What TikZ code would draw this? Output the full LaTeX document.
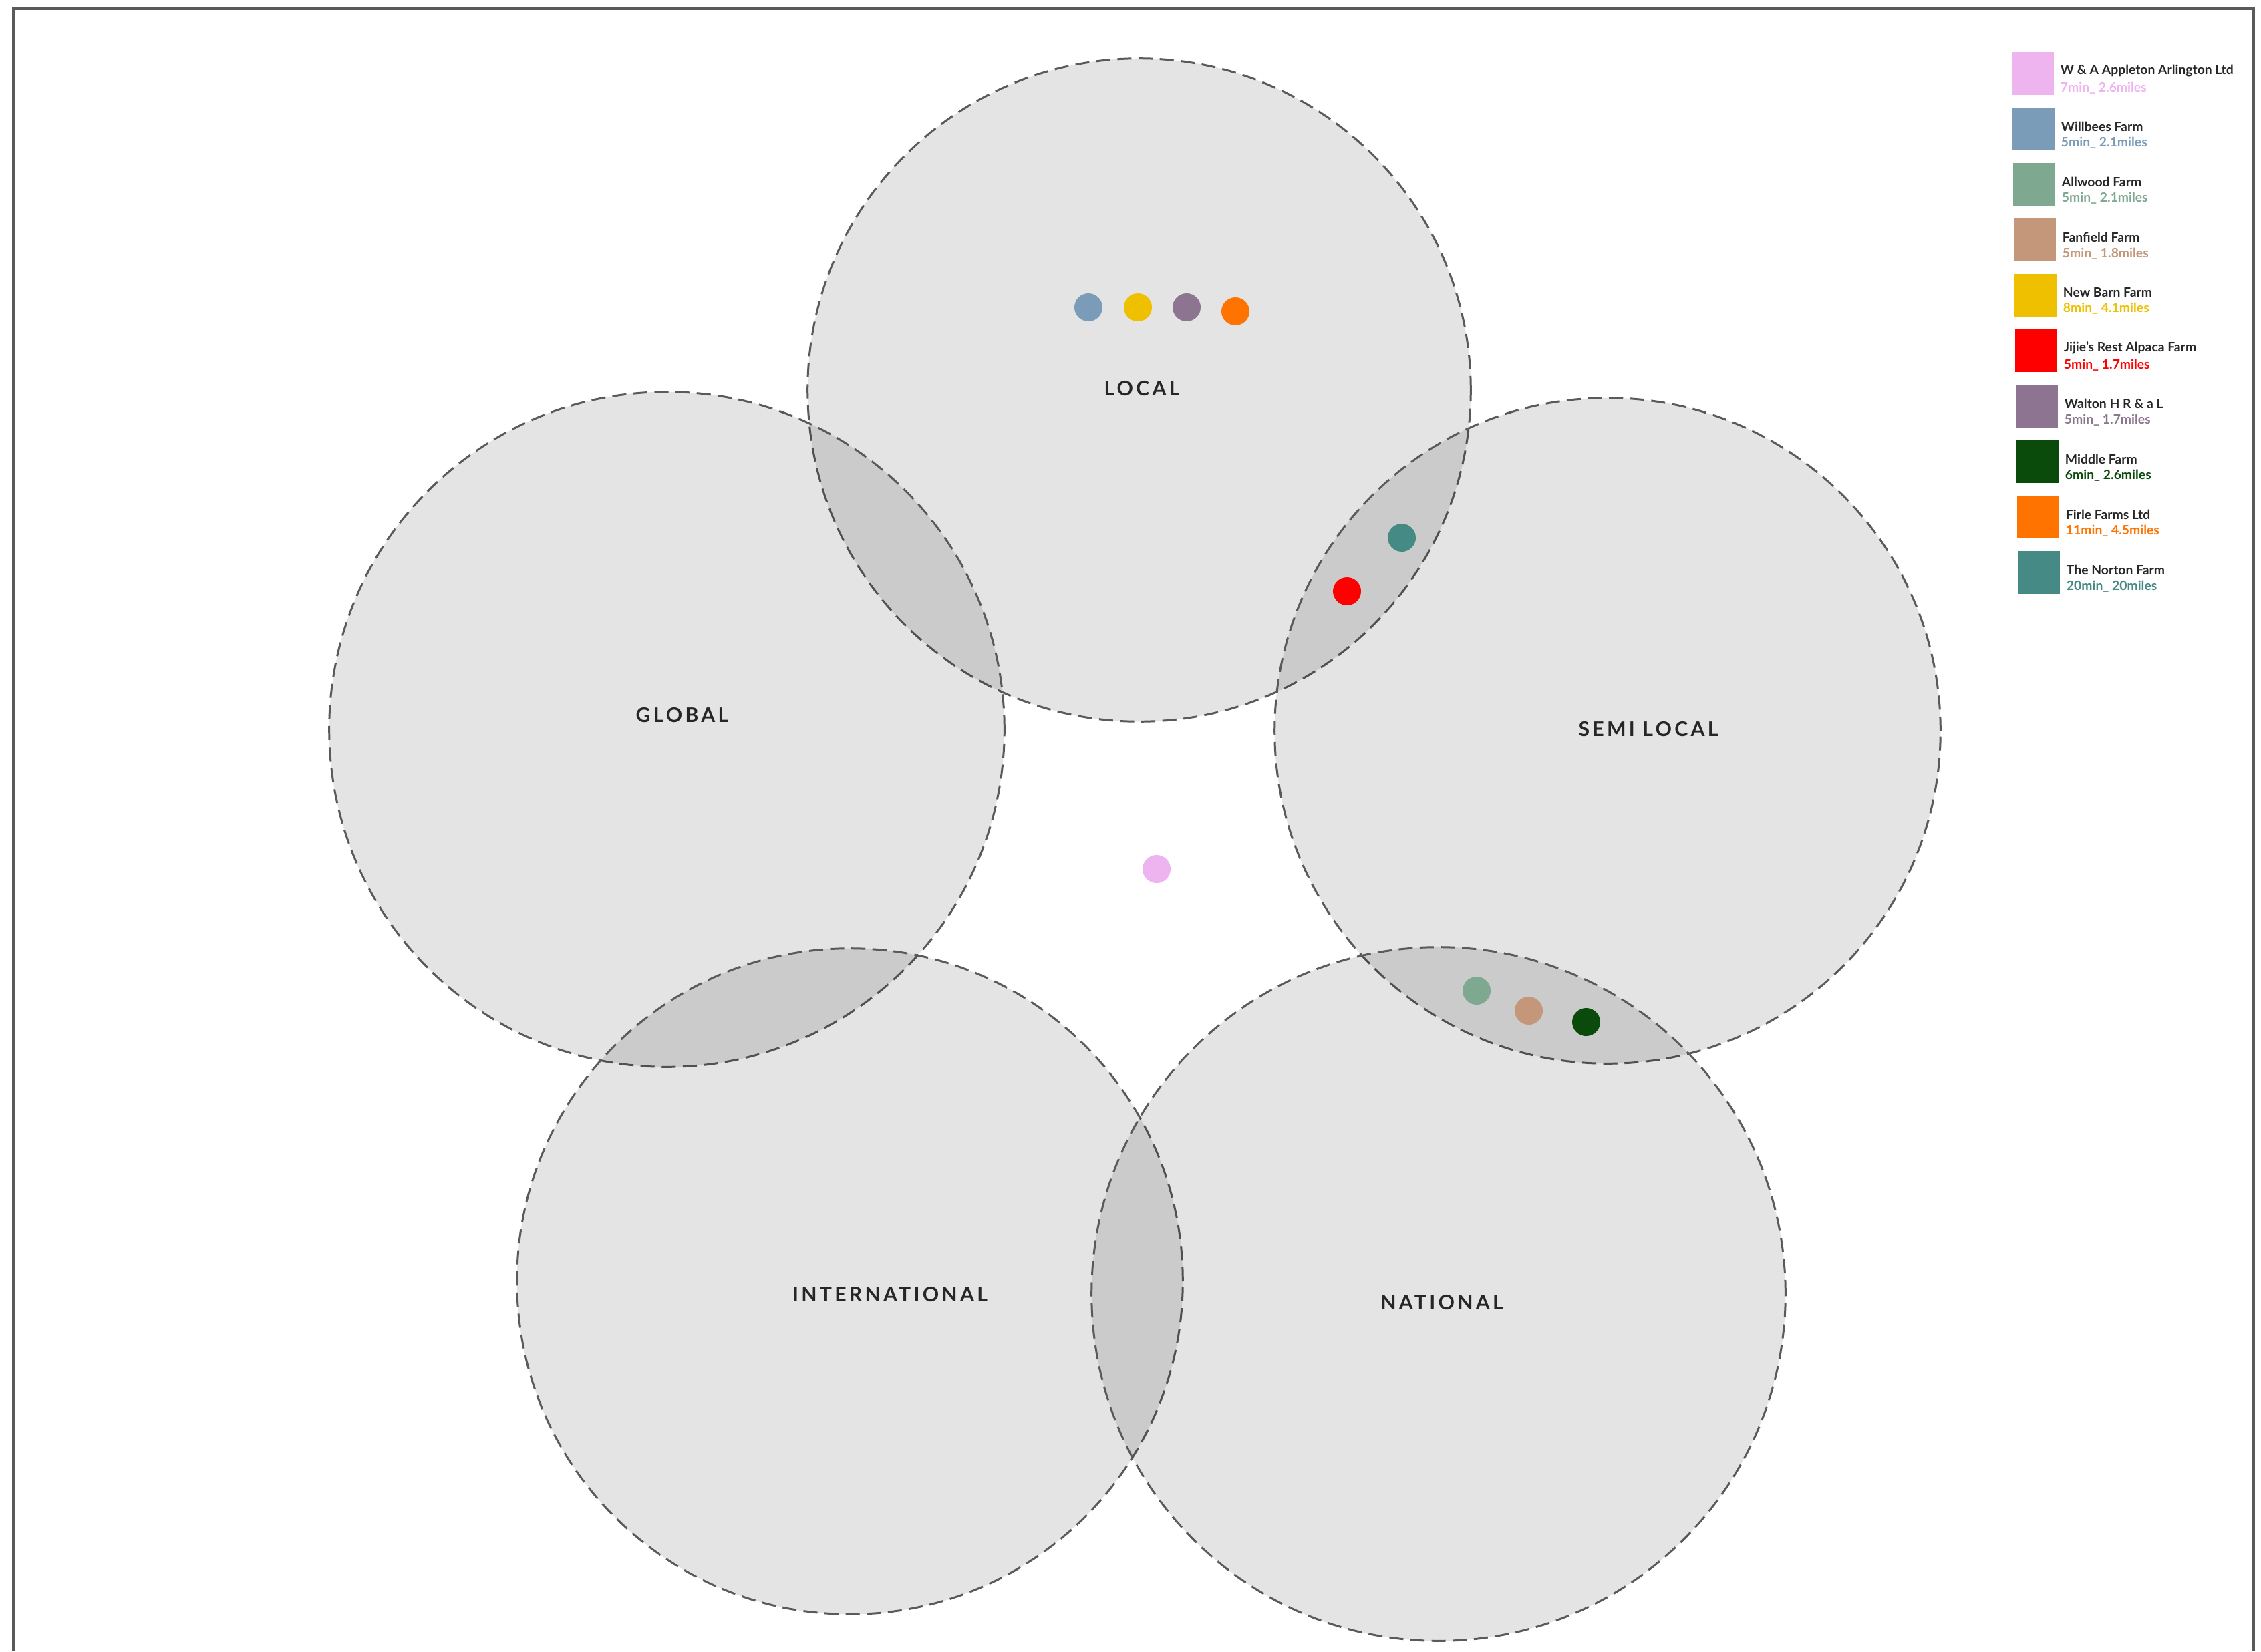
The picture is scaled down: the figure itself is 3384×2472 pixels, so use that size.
\documentclass[tikz,border=0pt]{standalone}
\usepackage{fontspec}
\setmainfont{Lato}
\usetikzlibrary{positioning}

\definecolor{zoneline}{HTML}{5A5A5A}
\definecolor{appleton}{HTML}{EEB4F0}
\definecolor{willbees}{HTML}{7B9CB8}
\definecolor{allwood}{HTML}{7EA88F}
\definecolor{fanfield}{HTML}{C4967A}
\definecolor{newbarn}{HTML}{EFC000}
\definecolor{jijie}{HTML}{FF0000}
\definecolor{walton}{HTML}{8D7490}
\definecolor{middle}{HTML}{0A4A0A}
\definecolor{firle}{HTML}{FF7400}
\definecolor{norton}{HTML}{468A86}

\begin{document}
\begin{tikzpicture}[x=0.01cm, y=-0.01cm,
  zone/.style={circle, draw=zoneline, line width=0.85pt, dash pattern=on 6pt off 3pt,
    fill=black, fill opacity=0.105, inner sep=0pt},
  zonelabel/.style={font=\fontsize{8.6}{10}\selectfont\bfseries\addfontfeatures{LetterSpace=14}, text=black!85},
  dot/.style={circle, minimum size=0.42cm, inner sep=0pt},
  key/.style={minimum width=0.63cm, minimum height=0.63cm, inner sep=0pt},
  keyname/.style={font=\fontsize{5.5}{6}\selectfont\bfseries, text=black!85, inner sep=0pt, anchor=west},
  keyinfo/.style={font=\fontsize{5.5}{6}\selectfont\bfseries, inner sep=0pt, anchor=north west}]
  \useasboundingbox (0,0) rectangle (3384,2472);
  \fill[white] (0,0) rectangle (3384,2472);
  \draw[zoneline, line width=0.9pt] (20,2472) -- (20,13) -- (3373,13) -- (3373,2472);

  % five zones
  \node[zone, minimum size=9.92cm] (local) at (1705,584) {};
  \node[zone, minimum size=10.1cm] (global) at (998,1092) {};
  \node[zone, minimum size=9.96cm] (semilocal) at (2406,1094) {};
  \node[zone, minimum size=9.96cm] (international) at (1272,1918) {};
  \node[zone, minimum size=10.38cm] (national) at (2153,1937) {};

  \node[zonelabel] (lbllocal) at (1709,582) {LOCAL};
  \node[zonelabel] (lblglobal) at (1021,1071) {GLOBAL};
  \node[zonelabel] (lblsemilocal) at (2467,1092) {SEMI LOCAL};
  \node[zonelabel] (lblinternational) at (1332,1938) {INTERNATIONAL};
  \node[zonelabel] (lblnational) at (2158,1950) {NATIONAL};

  % farms
  \node[dot, fill=willbees] (dwillbees) at (1629,460) {};
  \node[dot, fill=newbarn] (dnewbarn) at (1703,460) {};
  \node[dot, fill=walton] (dwalton) at (1776,460) {};
  \node[dot, fill=firle] (dfirle) at (1849,466) {};
  \node[dot, fill=norton] (dnorton) at (2098,805) {};
  \node[dot, fill=jijie] (djijie) at (2016,885) {};
  \node[dot, fill=appleton] (dappleton) at (1731,1301) {};
  \node[dot, fill=allwood] (dallwood) at (2210,1483) {};
  \node[dot, fill=fanfield] (dfanfield) at (2288,1513) {};
  \node[dot, fill=middle] (dmiddle) at (2374,1530) {};

  % legend
  \foreach \n/\name/\info [count=\i] in {
      appleton/{W \& A Appleton Arlington Ltd}/{7min\_ 2.6miles},
      willbees/{Willbees Farm}/{5min\_ 2.1miles},
      allwood/{Allwood Farm}/{5min\_ 2.1miles},
      fanfield/{Fanfield Farm}/{5min\_ 1.8miles},
      newbarn/{New Barn Farm}/{8min\_ 4.1miles},
      jijie/{Jijie's Rest Alpaca Farm}/{5min\_ 1.7miles},
      walton/{Walton H R \& a L}/{5min\_ 1.7miles},
      middle/{Middle Farm}/{6min\_ 2.6miles},
      firle/{Firle Farms Ltd}/{11min\_ 4.5miles},
      norton/{The Norton Farm}/{20min\_ 20miles}} {
    \node[key, fill=\n] (key\n) at (3041+\i,27+83*\i) {};
    \node[keyname] (name\n) at ([xshift=0.09cm,yshift=0.04cm]key\n.east) {\name};
    \node[keyinfo, text=\n] (info\n) at ([yshift=-0.07cm]name\n.south west) {\info};
  }
\end{tikzpicture}
\end{document}
